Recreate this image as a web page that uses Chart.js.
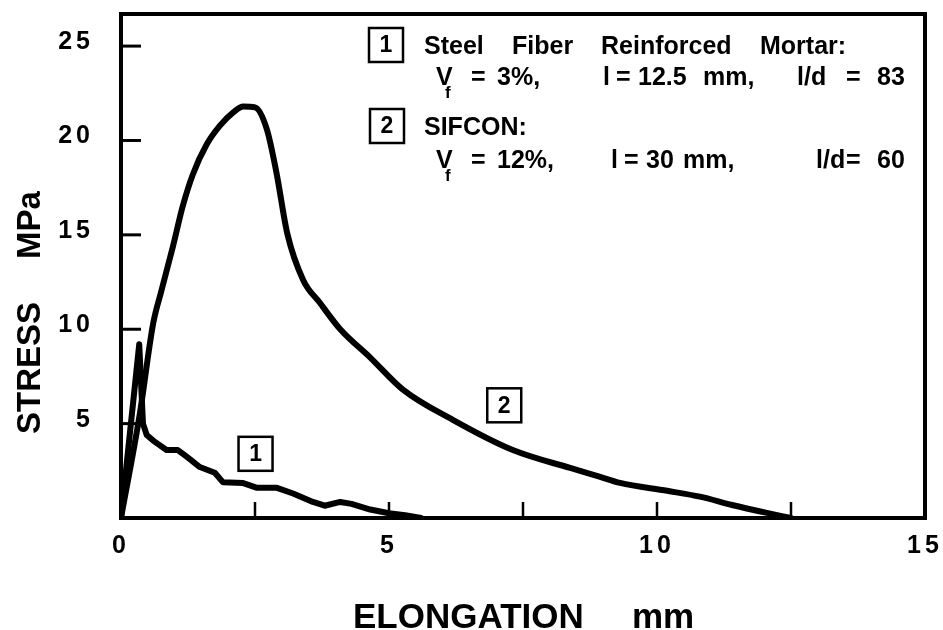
<!DOCTYPE html>
<html>
<head>
<meta charset="utf-8">
<script src="https://cdn.jsdelivr.net/npm/chart.js@4.4.1/dist/chart.umd.min.js"></script>
<style>
html,body{margin:0;padding:0;background:#fff;}
#wrap{width:943px;height:630px;}
</style>
</head>
<body>
<div id="wrap"><canvas id="stressChart" width="943" height="630"></canvas></div>
<script>
// curve 1 - steel fiber reinforced mortar (elongation mm / stress MPa)
const mortarX=[0,0.34,0.41,0.48,0.6,0.85,1.06,1.2,1.29,1.47,1.75,1.9,2.28,2.54,2.91,3.21,3.58,3.8,4.09,4.3,4.65,5.0,5.3,5.6];
const mortarY=[0,9.2,5.0,4.4,4.1,3.6,3.6,3.3,3.1,2.7,2.4,1.9,1.85,1.6,1.6,1.3,0.85,0.65,0.85,0.75,0.45,0.25,0.15,0];

// curve 2 - SIFCON
const sifconX=[0,0.35,0.6,0.75,0.97,1.15,1.34,1.6,1.85,2.1,2.28,2.5,2.72,2.9,3.1,3.4,3.71,4.09,4.65,5.26,6.19,7.31,8.38,8.94,9.31,10.19,10.8,11.4,12.05,12.5];
const sifconY=[0,5.5,10.3,12.0,14.4,16.5,18.2,19.8,20.8,21.5,21.8,21.75,20.6,18.3,15.1,12.6,11.4,10.0,8.5,6.8,5.2,3.6,2.65,2.18,1.86,1.44,1.13,0.69,0.27,0];

// tick setup
const xMax=15, xStep=2.5, xLabelStep=5;
const yMax=26.7, yStep=5;

// curve tags inside the plot
const tagText=["1","2"];
const tagX=[2.51,7.15];
const tagY=[3.4,5.97];

// legend text rows (segment, left edge)
const legendRows=[
{y:54,parts:[["Steel",424],["Fiber",512],["Reinforced",601],["Mortar:",760]]},
{y:85,sub:436,parts:[["V",436],["=",471],["3%,",497],["l",603],["=",616],["12.5",638],["mm,",703],["l/d",797],["=",846],["83",877]]},
{y:135,parts:[["SIFCON:",424]]},
{y:168,sub:436,parts:[["V",436],["=",471],["12%,",497],["l",611],["=",624],["30",646],["mm,",683],["l/d",816],["=",846],["60",877]]}
];
const legendBoxes=[["1",369,28],["2",370,109]];

const FONT='"Liberation Sans", Arial, Helvetica, sans-serif';

function pts(xs,ys){
return xs.map((x,i)=>({x:x,y:ys[i]}));
}

const framePlugin={
id:"frame",
beforeDraw(chart){
const ctx=chart.ctx;
ctx.save();
ctx.fillStyle="#fff";
ctx.fillRect(0,0,chart.width,chart.height);
ctx.restore();
ctx.letterSpacing="4px";
},
beforeDatasetsDraw(chart){
chart.ctx.letterSpacing="0px";
},
afterDraw(chart){
const ctx=chart.ctx;
const a=chart.chartArea;
const xs=chart.scales.x, ys=chart.scales.y;
ctx.save();
ctx.letterSpacing="0px";
ctx.strokeStyle="#000";
ctx.fillStyle="#000";

/* frame */
ctx.lineWidth=4;
ctx.strokeRect(a.left,a.top,a.right-a.left,a.bottom-a.top);

/* inward ticks */
ctx.lineWidth=3;
ys.ticks.forEach(t=>{
if(t.value<=0||t.value>=yMax) return;
const p=ys.getPixelForValue(t.value);
ctx.beginPath();ctx.moveTo(a.left,p);ctx.lineTo(a.left+20,p);ctx.stroke();
});
ctx.lineWidth=2.5;
xs.ticks.forEach(t=>{
if(t.value<=0||t.value>=xMax) return;
const p=xs.getPixelForValue(t.value);
ctx.beginPath();ctx.moveTo(p,a.bottom);ctx.lineTo(p,a.bottom-16);ctx.stroke();
});

/* curve tags */
ctx.lineWidth=2.5;
ctx.font="bold 23px "+FONT;
ctx.textAlign="center";
ctx.textBaseline="middle";
tagText.forEach((t,i)=>{
const cx=xs.getPixelForValue(tagX[i]);
const cy=ys.getPixelForValue(tagY[i]);
ctx.clearRect(cx-17,cy-17,34,34);
ctx.strokeRect(cx-17,cy-17,34,34);
ctx.fillText(t,cx,cy+1);
});

/* legend */
legendBoxes.forEach(b=>{
ctx.strokeRect(b[1],b[2],34,34);
ctx.fillText(b[0],b[1]+17,b[2]+18);
});
ctx.textAlign="left";
ctx.textBaseline="alphabetic";
legendRows.forEach(r=>{
ctx.font="bold 25px "+FONT;
r.parts.forEach(p=>ctx.fillText(p[0],p[1],r.y));
if(r.sub){
ctx.font="bold 17px "+FONT;
ctx.fillText("f",r.sub+9,r.y+13);
}
});

/* axis titles */
ctx.font="bold 35px "+FONT;
ctx.fillText("ELONGATION",353,628);
ctx.fillText("mm",632,628);

ctx.font="bold 33px "+FONT;
ctx.textAlign="center";
ctx.translate(40,0);
ctx.rotate(-Math.PI/2);
ctx.fillText("STRESS",-368,0);
ctx.fillText("MPa",-225,0);
ctx.restore();
}
};

const tickFont={family:FONT,size:25,weight:"bold"};

new Chart(document.getElementById("stressChart"),{
type:"line",
data:{
datasets:[
{label:"Steel Fiber Reinforced Mortar",data:pts(mortarX,mortarY),tension:0,cubicInterpolationMode:"default"},
{label:"SIFCON",data:pts(sifconX,sifconY)}
]
},
options:{
responsive:false,
animation:false,
devicePixelRatio:1,
layout:{padding:{top:14,right:18,left:0,bottom:0}},
elements:{
line:{borderColor:"#000",borderWidth:6,cubicInterpolationMode:"monotone",borderJoinStyle:"round",borderCapStyle:"round",fill:false},
point:{radius:0,hoverRadius:0}
},
plugins:{legend:{display:false},tooltip:{enabled:false}},
scales:{
x:{
type:"linear",
min:0,max:xMax,
grid:{display:false,drawTicks:false},
border:{display:false},
ticks:{
stepSize:xStep,
autoSkip:false,
maxRotation:0,
color:"#000",
font:tickFont,
padding:13,
callback:v=>(v%xLabelStep===0?v:"")
},
afterFit(s){s.height=112;s.paddingLeft=0;s.paddingRight=0;}
},
y:{
min:0,max:yMax,
grid:{display:false,drawTicks:false},
border:{display:false},
ticks:{
stepSize:yStep,
includeBounds:false,
color:"#000",
font:tickFont,
padding:27,
labelOffset:-4,
callback:v=>(v===0?"":v)
},
afterFit(s){s.width=121;s.paddingTop=0;s.paddingBottom=0;}
}
}
},
plugins:[framePlugin]
});
</script>
</body>
</html>
